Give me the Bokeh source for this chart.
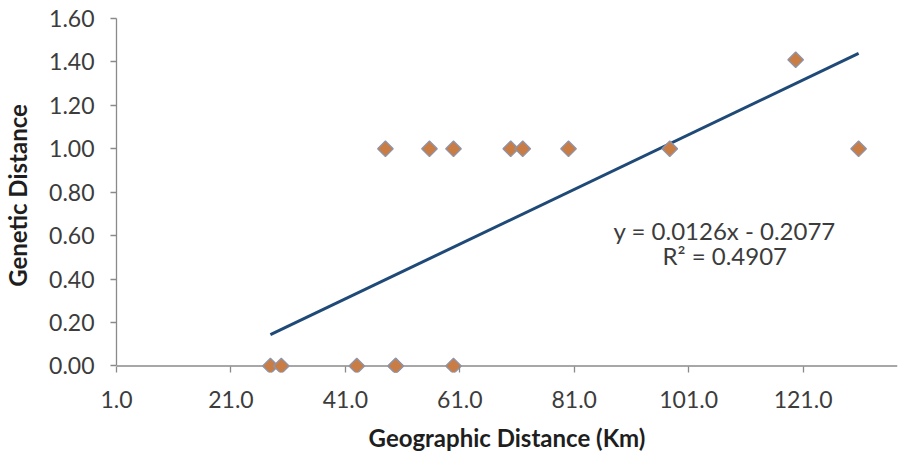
import numpy as np
from bokeh.plotting import figure
from bokeh.models import Range1d, FixedTicker, NumeralTickFormatter, Span
from bokeh.core.properties import value
from bokeh.embed import file_html
from bokeh.resources import INLINE

# ---- data ----
geo_km = [27.9, 29.8, 43.0, 49.8, 49.8, 59.9,
          48.0, 55.7, 59.9, 69.9, 72.0, 80.0, 97.7, 130.7,
          119.7]
gen_dist = [0.0, 0.0, 0.0, 0.0, 0.0, 0.0,
            1.0, 1.0, 1.0, 1.0, 1.0, 1.0, 1.0, 1.0,
            1.41]
x_ticks = [1, 21, 41, 61, 81, 101, 121]
y_ticks = [0.0, 0.2, 0.4, 0.6, 0.8, 1.0, 1.2, 1.4, 1.6]
equation_text = "y = 0.0126x - 0.2077"
r2_text = "R\u00b2 = 0.4907"
x_title = "Geographic Distance (Km)"
y_title = "Genetic Distance"

# linear trendline (least squares) over the data span
slope, intercept = np.polyfit(geo_km, gen_dist, 1)
trend_x = [min(geo_km), max(geo_km)]
trend_y = [slope * v + intercept for v in trend_x]

FONT = "Lato"
AXIS_COL = "#8a8a8a"
TXT_COL = "#3c3c3c"
Y0 = -0.03

p = figure(width=902, height=456,
           x_range=Range1d(1, 137.5), y_range=Range1d(Y0, 1.6),
           output_backend="svg", toolbar_location=None,
           min_border_left=116, min_border_right=5,
           min_border_top=18, min_border_bottom=84)
p.background_fill_color = "white"
p.border_fill_color = "white"
p.outline_line_color = None
p.xgrid.visible = False
p.ygrid.visible = False

# horizontal axis line at y = 0
p.add_layout(Span(location=0, dimension="width", line_color=AXIS_COL,
                  line_width=1.3, level="underlay"))

xa = p.xaxis[0]
xa.ticker = FixedTicker(ticks=x_ticks)
xa.formatter = NumeralTickFormatter(format="0.0")
xa.axis_label = x_title
xa.axis_line_color = None
xa.major_tick_in = 6
xa.major_tick_out = 0

ya = p.yaxis[0]
ya.bounds = (0, 1.6)
ya.ticker = FixedTicker(ticks=y_ticks)
ya.formatter = NumeralTickFormatter(format="0.00")
ya.axis_label = y_title
ya.axis_line_color = AXIS_COL
ya.major_tick_out = 6
ya.major_tick_in = 0

for ax in (xa, ya):
    ax.axis_line_width = 1.3
    ax.major_tick_line_color = AXIS_COL
    ax.major_tick_line_width = 1.3
    ax.minor_tick_line_color = None
    ax.major_label_text_font = FONT
    ax.major_label_text_font_size = "23px"
    ax.major_label_text_color = TXT_COL
    ax.axis_label_text_font = FONT
    ax.axis_label_text_font_style = "bold"
    ax.axis_label_text_font_size = "24px"
    ax.axis_label_text_color = "#1e1e1e"

xa.major_label_standoff = 18
xa.axis_label_standoff = 12
ya.major_label_standoff = 16
ya.axis_label_standoff = 14

# trendline
p.line(trend_x, trend_y, line_color="#1F4A78", line_width=3)

# points (diamonds)
p.scatter(geo_km, gen_dist, marker="square", angle=np.pi / 4, size=11,
          fill_color="#C97D45", line_color="#8E94A8", line_width=1.3)

# equation text
p.text(x=[107.3], y=[0.622], text=[equation_text], text_font=value(FONT),
       text_font_size="24px", text_color=TXT_COL,
       text_align="center", text_baseline="middle")
p.text(x=[107.3], y=[0.507], text=[r2_text], text_font=value(FONT),
       text_font_size="24px", text_color=TXT_COL,
       text_align="center", text_baseline="middle")

open("out.html", "w").write(file_html(p, INLINE))
